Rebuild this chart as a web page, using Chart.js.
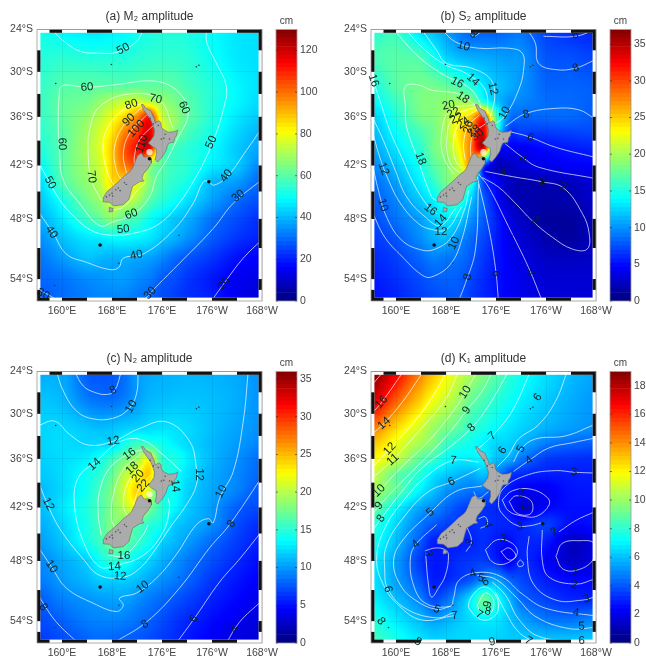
<!DOCTYPE html>
<html>
<head>
<meta charset="utf-8">
<title>Tidal amplitude maps</title>
<script src="https://cdn.jsdelivr.net/npm/chart.js@4"></script>
<style>
  html, body { margin: 0; background: #fff; }
  #page { position: relative; width: 646px; height: 656px; overflow: hidden; }
  canvas { position: absolute; filter: blur(0.5px); }
</style>
</head>
<body>
<div id="page"></div>
<script>
// axis ticks
const lonTicks = [160, 168, 176, 184, 192];
const lonTickLabels = ["160°E", "168°E", "176°E", "176°W", "168°W"];
const latTicks = [24, 30, 36, 42, 48, 54];
const latTickLabels = ["24°S", "30°S", "36°S", "42°S", "48°S", "54°S"];

// grid the amplitudes were read on (lat is degrees south)
const fieldLon = [156, 160, 164, 166, 168, 170, 172, 174, 176, 178, 180, 184, 188, 192];
const fieldLat = [24, 28, 32, 34, 36, 38, 40, 42, 44, 46, 48, 50, 52, 54, 56];

// M2 amplitude, cm
const m2Values = [
  [52,48,46,46,47,48,50,52,53,53,52,49,46,45],
  [53,54,53,53,53,53,54,55,55,55,54,50,46,45],
  [55,59,60,60,60,60,61,61,61,60,57,53,48,45],
  [55,61,63,67,71,74,76,72,68,64,60,53,48,44],
  [55,61,67,72,79,86,96,110,75,68,61,53,46,42],
  [54,60,69,76,84,97,106,118,80,66,58,51,44,39],
  [52,60,70,77,88,103,112,115,65,57,54,49,42,37],
  [48,60,69,75,87,98,100,70,60,56,54,47,42,33],
  [43,58,67,72,85,85,80,66,58,54,51,40,36,29],
  [41,51,63,68,75,75,70,60,54,50,45,37,30,26],
  [38,46,56,61,66,60,57,50,46,42,39,31,26,22],
  [34,41,46,47,49,49,48,46,42,39,35,28,23,20],
  [31,36,41,40,39,39,38,37,34,30,27,23,18,16],
  [29,31,34,35,36,36,34,32,28,26,23,19,15,13],
  [27,30,32,33,33,33,31,29,26,24,22,20,14,11]
];
const m2Ticks = [0, 20, 40, 60, 80, 100, 120];
const m2Lines = [
  [158.3,24, 160.7,26, 163.1,27.2, 166,27.4, 168.7,27.3, 171.9,25.8, 173,24],
  [183.1,24, 183.2,26, 184.7,28.8, 186.3,32, 185.8,35.1, 184.2,39, 182,42.6, 178.3,46.7, 175.1,48.7, 171.4,49.5, 168.2,49.7, 165,49.3, 162,47.8, 159.6,45.9, 157.5,43.3, 156,41.3],
  [159.6,32.3, 160.4,31.8, 163.9,32.1, 168.2,31.8, 175.1,31.3, 178.8,32.9, 180.2,35.6, 178.3,39, 176.7,41.4, 175.1,43.3, 174,45.6, 171.4,47.5, 168.2,48.3, 166,48.7, 162.8,46.3, 160.2,43.7, 159.6,40.2, 159.4,36, 159.6,32.3],
  [177.8,37.5, 175.6,33.8, 170.8,33, 166,34.7, 164.4,37.7, 164.2,40.6, 164.7,43.7, 166.3,46],
  [167.4,47.1, 169.8,46.7, 171.9,45, 173.5,43.9],
  [172.7,34.3, 169.8,35.1, 167.1,37.7, 166.6,40.6, 167.6,43.4, 168.4,44.4],
  [172.9,34.7, 170,36.9, 168.4,39.8, 168.7,42.6, 169.5,43.7],
  [173.5,35.8, 170.8,38.1, 169.8,40.6, 170.3,42.9],
  [174.6,37.1, 172.4,38.9, 171.6,40.8, 171.6,42.1],
  [156,47, 158.6,49.5, 160.7,51.6, 163.9,52.4, 167.6,53.1, 169.1,52.9, 169.8,52, 173,51.6, 177.8,49.2, 181,46.3, 182.6,43.9, 183.6,43.9, 184.2,44.3, 186.3,43.4, 189.5,40.2, 191.9,37.5],
  [173,56, 175.1,54.7, 178.8,52.5, 184.2,49, 187.4,46.3, 191.9,43.7],
  [183.9,56, 186.3,54.1, 189,52, 191.9,50.2],
  [156,54.9, 158,55.5, 159.4,56]
];
const m2Labels = [
  ["50",169.8,26.8],["50",158.1,44],["50",183.9,39.2],["50",169.8,49.1],
  ["60",164,32.1],["60",160,39.4],["60",179.5,34.8],["60",171.1,47.5],
  ["70",175,33.7],["70",164.7,43.3],["80",171.1,34.4],["90",170.7,36.4],["100",171.9,37.5],["110",172.8,39.4],
  ["40",158.3,49.4],["40",171.9,51.7],["40",186.3,43.2],
  ["30",188.2,45.5],["30",174.1,55.3],["30",157,55.4],["20",185.9,54.4]
];

// S2 amplitude, cm
const s2Values = [
  [15,16,12.5,11.5,10.5,9,8,8,8,8.5,8.8,7,6.2,5.8],
  [16.5,17,16.5,14.5,12.5,11.5,11,10.8,10.5,10.2,10,7.8,7.5,7],
  [14.5,17,18,18,17.5,16.5,15,13,11.8,11,10,8.3,8.2,8],
  [13.5,16,18.3,18.6,19,19.5,19,15,12,10,9.5,8.6,8.4,8],
  [12,15,18,18.5,20,23,25,30,17,9.5,8.3,8.4,8.4,7.8],
  [11.3,14,16.5,18,20,24,27,33,16,7,6.8,6.7,7,7.2],
  [10.5,13,15.5,18,19.5,23,28,33,8,4.5,4.2,5,5.5,5.8],
  [9.5,11.8,14.5,17,18.5,21,25,8,2.5,2.5,3.2,4,4.4,4.6],
  [8.5,10.5,13.5,15.5,18,19,16,7,4.5,2.5,1.8,2,2.3,3.3],
  [7.8,9.5,12,13.5,15.5,16,12,8.2,5,2.6,1.9,1.5,1.8,2.8],
  [7.3,8.8,10.5,12,13.2,12.5,10,7.9,5.8,3.8,2.5,1.3,1.2,2.3],
  [6.6,7.8,9.8,11,11.5,10,8.5,7.2,5.6,4,3,1.8,1.2,2.4],
  [6,6.9,8.4,9.3,9,8.8,7.8,6.6,5.4,4.3,3.5,2.6,2.4,2.6],
  [5.5,6.3,7.4,8,8.2,8,7.1,6.1,5.2,4.4,3.8,3.1,3,3],
  [5.2,5.8,6.8,7.2,7.5,7.8,6.7,5.9,5.2,4.4,3.8,3.4,3.2,3.2]
];
const s2Ticks = [0, 5, 10, 15, 20, 25, 30, 35];
const s2Lines = [
  [167.3,24, 169.5,25.8, 173.2,26.7, 178,26.7, 180.2,27.4, 180.4,29.8, 179.6,32.5, 177.5,35.8, 175.5,37.1],
  [181,24, 182.3,26, 182.8,28.8, 185.5,29.7, 188.7,29.5, 191.7,28.4],
  [183.6,25, 188.7,25, 191.7,24.1],
  [171.6,24.2, 172.4,25, 173.4,24.5],
  [164.1,24, 166.5,27, 168,28.8, 172.1,29.5, 175.1,31, 175.8,33.3, 175.1,36],
  [161.5,24, 164.7,27, 167.8,29, 171.6,30.4, 174.3,32.5, 174.7,35.6],
  [159.6,24, 163.6,27.9, 167.6,30.4, 171.6,32.1, 173.2,33.8, 173.6,35.1],
  [172.7,34.5, 170,33, 165.7,32.5, 163.6,31.8, 161.5,32, 161.5,34.7, 161.7,37.3, 163.6,41.5, 165.7,45.6, 166.5,46],
  [156.1,30.5, 157.4,33.8, 159,37.7, 160.9,41, 162.8,44.1, 165.2,46.7, 166.5,47.4],
  [156.1,35.8, 158,39, 159.9,42.6, 161.7,45.6, 164.7,47.8, 167.1,48.7, 169.5,46.9],
  [156.1,37.5, 157.4,41, 158.8,43.7, 160.7,46.3, 163.6,48.5, 165.7,49.1, 168.1,49.1, 170.5,46.7],
  [156.1,41.4, 157.2,44.9, 158.5,47.8, 160.9,50.2, 164.1,51.2, 166.3,51.1, 168.9,49.9, 171.1,46.7, 171.6,44.9],
  [156.1,47.1, 158.2,49.9, 160.9,51.8, 164.1,53.6, 165.7,53.8, 168.7,52.6, 170.5,50.2, 172.1,45.6],
  [170,56, 171.1,54.4, 172.7,51.2, 173.2,44.1],
  [176.4,56, 175.9,52.9, 174.8,48.8, 173,43.3],
  [183.4,56, 181.2,52.9, 178,48.8, 174.8,44.5, 173.2,43],
  [174.3,42.7, 178.6,43.3, 183.4,43.9, 186.8,44.6, 189.8,47.4, 190.9,49.5, 190.6,51.1, 188.2,51.1, 185,49.9, 181.8,48.2, 179.1,46.3, 176.4,44.5, 173.8,43.4],
  [177.5,37.2, 180.7,35.6, 185.5,34.9, 189.3,35.1, 191.7,36.2],
  [178.3,37.9, 181.2,38.5, 185.5,39.8, 191.7,41],
  [177.5,39.4, 180.2,41, 182.8,42.2, 191.7,43.5],
  [172.7,34.4, 168.7,35.1, 167.3,38.1, 167.6,41, 169.2,43],
  [172.8,34.7, 169.2,36, 168.1,39, 168.7,41.8, 170.1,42.8],
  [173,35.1, 170.3,36.6, 169.2,39, 169.5,41.4, 170.5,42.3],
  [173.3,35.8, 171.6,37.1, 170.8,39.4, 171.1,41.4],
  [174.3,36.9, 172.4,38.1, 171.9,40.2, 172.1,41.2]
];
const s2Labels = [
  ["10",170.8,26.4],["10",177.4,35.5],["10",169.3,50.5],["10",157.9,46.5],
  ["8",172.4,24.7],["8",188.8,29.5],["8",180.8,35.7],["8",171.5,53.8],
  ["6",188.7,24.8],["6",181.5,38.6],["6",175.9,53.5],
  ["4",180.3,41.2],["4",177.2,42.7],["4",181.5,53.4],
  ["2",186.7,44.5],["2",182.3,48.2],["2",183.3,43.9],
  ["16",169.8,31.5],["16",156.4,31.2],["16",165.5,47],
  ["14",172.3,31.1],["14",167.2,48.2],["12",175.5,32.3],["12",158,42.4],["12",167.2,49.3],
  ["18",170.7,33.5],["18",163.9,41.2],["20",168.4,34.5],["22",169.2,35.5],["22",169.7,36.2],
  ["24",170.8,36.8],["26",171.6,37.3],["28",172.5,37.8],["30",173.1,38.3]
];

// N2 amplitude, cm
const n2Values = [
  [10.5,10.5,7.8,7.5,7.6,8.4,10,10.5,10.7,10.8,11,10.8,10.4,9.6],
  [11.5,11,9,8.5,8.4,9,10.1,11,11.2,11.4,11.4,11.2,10.6,9.6],
  [12,12.1,11.5,11.2,11.4,11.8,12,12.3,12.5,12.5,12.2,11.2,10.3,9.6],
  [12,12.3,12,12.2,12.1,14,15.5,15,14,13,12.2,11,10,9.2],
  [11.8,12.3,13,14,15.5,17.5,19,22,15,14.5,13,11,9.6,8.3],
  [11.5,12.3,13.9,15,17,20,22,24,16,14,12.5,10.6,9.3,8],
  [11,12.2,14,15.9,18,21,24,21,14.5,13.8,12,10.4,9.1,7.4],
  [11,12.6,14.6,16,18,20,22,18,15,13.5,11.7,10,7.9,7],
  [10.5,12,14.3,16,18,18,16.5,15,14,11.8,11,9.6,7.2,6],
  [10,11.5,14,15.5,17.5,17,15.5,14,12,11,10,8.2,6.6,5.4],
  [9.2,10.5,11.9,13.8,15,14.5,13,12,10.8,9.8,8.8,7.3,5.9,4.8],
  [8.7,10,11,11.8,11.9,11.9,11.3,10.4,9.6,8.9,8,6.4,5.2,4.3],
  [7.6,9,9.7,10,10.2,10.2,9.5,8.8,8.2,7.5,6.8,5.6,4.6,3.7],
  [7,7.9,8.9,9.1,9.2,9,8.5,7.9,7.2,6.4,5.8,4.8,3.9,3.3],
  [6.4,7.1,7.8,8.2,8,7.7,7.5,7,6.5,6,5.2,4.2,3.5,3]
];
const n2Ticks = [0, 5, 10, 15, 20, 25, 30, 35];
const n2Lines = [
  [162,24, 163.4,26.1, 165.2,27, 167.1,27.3, 168.4,26.8, 169.5,24],
  [159.1,24, 160.2,26.8, 162.3,29.6, 165,30.7, 168.2,30.6, 170.6,29.4, 171.9,27.3, 172.2,24],
  [156,31.7, 158.8,31, 161.2,32.8, 164.2,34.2, 168.2,33.7, 172.4,32, 176.7,31.1, 180.4,33.7, 181.5,37.2, 181.5,39.3, 179.9,41.7, 177.2,44.4, 175.1,46.6, 172.4,48.8, 169.8,49.7, 166,49.5, 163.4,47.8, 159.6,44.4, 157.5,41.3, 156,38.4],
  [179.1,37.6, 176.2,35.5, 172.7,33.5, 169.2,33.8, 165.5,36.3, 162.6,38.4, 162,41.7, 163.4,45.9, 166,48.6, 168.4,48.5, 173,47.4, 176.2,44.8, 177.2,42.1, 177,40.9],
  [173,34.8, 170.8,35.3, 167.6,37.2, 166,40.1, 165.8,42.9, 166.3,45.2],
  [167.4,47.4, 170,47.4, 173,45.1, 173.8,44],
  [172.7,35.3, 169.8,37.4, 168.2,40.5, 167.9,43.2, 168.4,44.4],
  [173,36.8, 170.6,38.9, 169.8,41.7, 170.6,43.2],
  [174.3,38, 172.4,39.7, 171.4,41.7],
  [156,46.3, 158.3,48.6, 160.7,50.8, 165,52.3, 168.7,53.1, 169.8,52.5, 169.2,51.8, 171.9,51.3, 175.1,49.8, 178.3,47.3, 181.5,44, 183.4,43.3, 184.2,43.8, 185.2,40.9, 187.4,37.6, 189,31, 189.8,24],
  [156,51.2, 157.2,52.5, 159.1,54.1, 161.8,55.6, 162.8,56],
  [168.2,56, 173.5,54.1, 178.8,50.8, 183.6,46.6, 186.8,44, 191.9,38.4],
  [178.3,56, 181,53.9, 185.2,50.2, 188.4,47.8, 191.9,44.8],
  [186.3,56, 188.4,54.1, 191.9,52.1]
];
const n2Labels = [
  ["8",168.2,26.7],["8",157,52.7],["8",173.3,54.3],["8",187.1,43.9],
  ["10",171.1,29],["10",158.3,48.6],["10",172.9,50.7],["10",185.5,40.1],
  ["12",168.2,33.7],["12",181.9,38],["12",157.8,41.6],["12",169.3,49.6],
  ["14",165.2,36.7],["14",168.4,48.6],["14",178.1,39.4],
  ["16",170.8,35.4],["16",169.9,47.4],["18",171.2,37.2],["20",172.2,38.2],["22",173,39.4],
  ["6",181.1,53.8],["4",187.6,54.8]
];

// K1 amplitude, cm
const k1Values = [
  [19,16.8,14.2,13,12,11,10.3,9.5,8.8,8,7.4,6.6,5.9,5.5],
  [17.5,15,12.8,11.7,10.9,10.1,9.1,8.5,7.9,7.4,6.9,6.2,5.6,5.2],
  [14.5,12.6,11,10,9.4,8.8,8,7.6,7.1,6.7,6.3,5.7,5.3,5],
  [13,11.6,10.2,9.5,8.3,7.8,7.4,6.9,6.4,6.3,5.7,4.7,4.3,4.1],
  [12,10.9,8.8,8.2,7.3,6.9,6.9,7,6,5.7,4.6,3.5,3.3,3.2],
  [11,9,7.8,6.7,6.2,5.8,5.6,6,5,3.5,3.1,2.9,2.9,2.9],
  [10.2,8.9,6.9,6,5.2,4.8,4.5,4.5,3.5,2.8,2.2,2.2,2.7,2.8],
  [9.3,7.2,5.5,5,4.4,3.8,3.5,3.3,3.1,2.7,1.6,2.4,2.6,2.6],
  [8,6.4,4.6,4,3.6,3.3,3.2,3.3,3.1,3,2.9,3.5,2.5,2.6],
  [7.5,5.9,4,2.9,3,2.9,3,3.2,2.8,2.5,3,2.8,1.3,1.8],
  [6.9,5.4,3.4,2.8,2.9,3.2,3.4,3.5,3,2.2,3.1,2.4,1.4,1.9],
  [6.7,5.4,3.9,2.9,3.1,3.5,4,5,5.5,4.3,3.7,2.9,2.5,2.5],
  [7,6,4.8,3.8,4.4,5.4,6.8,9,7.5,6,4.4,3.6,3.1,3.1],
  [7.8,6.8,5.9,5.4,5.7,6.1,6.5,6.8,6.7,6.1,5.5,4.7,4.6,5],
  [8.5,7.6,6.7,6.4,6.4,6.5,6.4,6.4,6.3,6.2,6.2,6.2,6.2,6.2]
];
const k1Ticks = [0, 2, 4, 6, 8, 10, 12, 14, 16, 18];
const k1Lines = [
  [156.4,25.7, 158,24],
  [156.1,30, 157.7,28.4, 161.2,24],
  [156.1,32.8, 158.1,31.3, 160.9,28.5, 164.4,24],
  [156.1,37.2, 159,34.7, 162.5,31.5, 165.7,27.8, 168.1,24],
  [156.1,38.5, 159.5,36.1, 163.6,32.4, 167.9,28, 170,24],
  [156.1,40.9, 157.3,40, 160.7,37.2, 165.2,33.7, 169.5,29.2, 171.1,27, 173,24],
  [156.1,42.9, 157.3,41.8, 160.4,39.3, 165.2,35.5, 168.7,32.4, 171.3,29.5, 173.8,26.8, 175.4,24],
  [156.1,44.8, 157.6,43.3, 160.9,40.1, 164.1,37.2, 168.7,34.4, 172.1,31.9, 174.8,28.9, 178,24],
  [173.2,36.4, 169.2,36.2, 165.2,38, 161.5,40.9, 158.2,44.4, 156.9,47.8, 158,50.5, 160.4,52.5, 164.1,53.9, 169.2,53.5],
  [172.7,35, 175.4,33, 178.6,29.6, 181.5,24],
  [173.5,37.2, 168.9,38.9, 165.2,40.1, 161.5,42.9, 158.5,46.3, 158.2,49.1, 158.7,50.9, 161.5,52.8, 166.5,53.7, 169.2,53.2],
  [173.8,39.4, 169.5,40.1, 165.5,42.6, 160.9,45.9, 159.6,48.1, 160.7,50.5, 163.1,52, 166.5,52.9, 168.7,52.6],
  [166.5,44, 163.2,46.2, 162.3,47.7, 162.8,50.5, 164.7,52.3, 168.7,52.6, 169.2,51.8, 170.1,50, 173.3,49.2, 177,49.7, 180.2,51.4, 184,52.8, 191.7,53.5],
  [164.7,46.9, 165.2,50.5, 165.7,51.7, 166.8,50.8, 167.9,49.5, 168.4,47.4, 167.9,46.8, 166.3,46.6, 164.7,46.9],
  [173,49.5, 175.9,49.9, 179.2,51.7, 182.4,53.6, 187.7,54.7, 191.7,54.6],
  [175.4,50.2, 177.5,51.5, 179.6,53.8, 182.8,55.4, 189.3,55.8, 191.7,55.8],
  [175.9,51.2, 177.5,53.1, 179.6,55, 182.3,56],
  [172.4,53.4, 171.6,52.5, 172.7,51.2, 174.3,50.7, 175.9,51.5, 176.4,52.8, 175.4,53.7, 173.8,53.9, 172.4,53.4],
  [173,52.5, 174.3,51.3, 175.6,52, 175.1,53.3, 173.5,53.1, 173,52.5],
  [187.4,24, 185.5,28.3, 182.8,31.5, 179.6,33.4, 178,35.5, 176.2,37],
  [178.8,36.4, 180,34.7, 182.3,33.4, 187.1,33, 191.7,31.5],
  [178.8,37.6, 181.3,36.2, 184.4,34.6, 188.2,33.9, 191.7,33.3],
  [191.7,37.8, 188.5,37.7, 185.5,37.5, 181.2,38, 177.2,39.7, 176.4,41.7, 177.2,42.9, 179.4,44.1, 181.6,44.1, 183.2,43.8],
  [177,41.1, 178.6,40, 181.6,39.8, 184.2,40.8, 184.5,41.7, 182.6,43, 180.2,43, 178,42.4, 177,41.1],
  [178.1,41.3, 179.2,40.6, 181.6,41.2, 181.6,42.7, 179.4,42.7, 178.1,41.3],
  [186.1,44.8, 188.8,43.5, 191.5,42.6],
  [183.4,44.6, 183.4,47.9, 184.5,49.7, 188.8,50.4, 191.7,49.9],
  [181.3,45.3, 181,47.5, 182,50.4, 185.6,52, 189.8,52, 191.7,51.7],
  [185.6,47.5, 186.6,46.1, 189.3,45.8, 191.7,46.1, 191.5,47.9, 188.8,49, 186.6,48.8, 185.6,47.5],
  [174.3,46.8, 176.2,45.7, 178.6,46.1, 179.4,47.2, 177.5,48.3, 175.4,48.1, 174.3,46.8],
  [176.8,47, 178.1,46.6, 179.2,47.5, 178.1,47.9, 176.8,47],
  [179.4,48.3, 179.9,47.9, 180.4,48.4, 179.7,48.6, 179.4,48.3],
  [173.2,43.3, 174.3,43.1, 174.6,44, 173.5,44.4],
  [171.2,44, 172.1,45.9, 171.2,47],
  [172.4,40.1, 173.2,40.9, 174.8,40.1]
];
const k1Labels = [
  ["16",157.7,28.4],["14",158.1,31.3],["12",159,34.7],["11",159.5,36.1],["10",157.3,40],["9",157.3,41.8],["8",157.6,43.3],
  ["10",171.1,27],["9",171.3,29.5],["8",172.1,31.9],["7",175.4,33],["6",177.1,34.9],["5",180,34.7],["4",181.3,36.2],["3",188.5,37.7],["6",182.7,27.7],
  ["7",169.2,36.2],["6",168.9,38.9],["5",165.5,42.6],["4",163.2,46.2],["3",165.1,47.2],["6",158.7,50.9],["8",157.6,54],["5",166.5,52.9],["7",169.4,53.5],["8",163.5,55.9],
  ["4",172.3,49.3],["5",173.6,49.8],["6",174.3,50.2],["9",174.7,52.4],["8",174.7,53.1],["7",173.3,53.4],
  ["3",171.8,46],["3",177.1,45.6],["3",179.8,44.2],["4",174.7,44],["2",180,40.3],["1",180.7,42],["2",185.3,44.8],
  ["3",190.5,51.9],["4",188.8,53.2],["5",189.7,54.5],["6",189.7,55.8],["7",181.2,55.8],["9",175.4,55.9],["1",188.7,49.2],["2",188.5,50.5]
];

// coastline, lon/lat pairs
const northIsland = [172.7,34.4, 173,34.4, 173.4,34.9, 174.2,35.2, 174.5,35.8, 174.8,36.3, 174.9,36.8, 175.5,36.5, 175.8,36.7, 175.9,37.3, 176.2,37.6, 177,37.95, 177.9,37.9, 178.5,37.7, 178.3,38.4, 178,38.7, 177.9,39.2, 177.1,39.3, 176.9,39.6, 176.6,40.3, 176,41, 175.3,41.6, 174.9,41.3, 175.1,40.7, 175.1,40, 174.4,39.7, 173.8,39.3, 174.2,38.95, 174.7,38.4, 174.8,37.7, 174.6,37.2, 174.2,36.4, 173.4,35.5, 173,35, 172.7,34.4];
const southIsland = [172.7,40.5, 173.1,41, 173.8,40.95, 174.3,41.2, 174.3,41.7, 173.7,42.4, 173,43, 172.8,43.5, 173.1,43.8, 172.4,43.9, 171.3,44.4, 171,45.1, 170.7,45.9, 169.8,46.45, 168.3,46.6, 167.6,46.2, 166.6,46.15, 166.6,45.7, 167.2,45, 167.9,44.6, 169,43.9, 170,43.2, 170.9,42.7, 171.2,42.4, 171.6,41.75, 172.1,40.8, 172.7,40.5];
const stewartIsland = [167.6,46.75, 168.2,46.9, 168.1,47.2, 167.5,47.25, 167.6,46.75];
const smallIslands = [167.9,29, 181.5,29.3, 181.9,29.1, 159,31.6, 178.7,49.7, 158.8,54.6, 169.1,52.5];
const bigIslands = [166.1,50.7, 183.5,43.9, 174,41.2];
const landMarks = [168,45.2, 168.6,44.8, 169,44.6, 169.3,44.9, 170,44, 170.3,44.2, 168.1,45.5, 167.6,45.4, 167.1,45.6, 175.9,38.8, 176.5,38.2, 177.2,38.8, 174.1,36.2, 174.6,36.9, 175.4,37.1, 176.3,38.7];
const strait = [174,40.4];

// colours of the matlab jet map
function jet(t) {
  const c = v => Math.round(255 * Math.min(1, Math.max(0, v)));
  return [c(1.5 - Math.abs(4 * t - 3)), c(1.5 - Math.abs(4 * t - 2)), c(1.5 - Math.abs(4 * t - 1))];
}

// mercator, negative so that south is down
function merc(lat) {
  return -Math.log(Math.tan(Math.PI / 4 + lat * Math.PI / 360));
}
function unmerc(y) {
  return (Math.atan(Math.exp(-y)) - Math.PI / 4) * 360 / Math.PI;
}
function toPoints(flat) {
  const pts = [];
  for (let i = 0; i < flat.length; i += 2) pts.push({ x: flat[i], y: merc(flat[i + 1]) });
  return pts;
}

function gridIndex(list, v) {
  let i = 0;
  while (i < list.length - 2 && v > list[i + 1]) i++;
  return i + (v - list[i]) / (list[i + 1] - list[i]);
}
function spline(a, b, c, d, t) {
  return 0.5 * (2 * b + (c - a) * t + (2 * a - 5 * b + 4 * c - d) * t * t + (3 * b - a - 3 * c + d) * t * t * t);
}
function sampleRow(row, ci) {
  const i = Math.floor(ci), t = ci - i, n = row.length - 1;
  const at = k => row[Math.max(0, Math.min(n, k))];
  return spline(at(i - 1), at(i), at(i + 1), at(i + 2), t);
}

// paints the amplitude field under the datasets, using the chart's own scales
const fieldPlugin = {
  id: "field",
  beforeDatasetsDraw(chart, args, opts) {
    const area = chart.chartArea, xs = chart.scales.x, ys = chart.scales.y;
    const w = Math.ceil(area.width), h = Math.ceil(area.height);
    const off = document.createElement("canvas");
    off.width = w; off.height = h;
    const offCtx = off.getContext("2d");
    const img = offCtx.createImageData(w, h);
    const cols = [];
    for (let px = 0; px < w; px++) cols.push(gridIndex(fieldLon, xs.getValueForPixel(area.left + px + 0.5)));
    let o = 0;
    for (let py = 0; py < h; py++) {
      const ri = gridIndex(fieldLat, unmerc(ys.getValueForPixel(area.top + py + 0.5)));
      const i = Math.floor(ri), t = ri - i, n = opts.values.length - 1;
      const rows = [i - 1, i, i + 1, i + 2].map(k => opts.values[Math.max(0, Math.min(n, k))]);
      for (let px = 0; px < w; px++) {
        const ci = cols[px];
        const v = spline(sampleRow(rows[0], ci), sampleRow(rows[1], ci), sampleRow(rows[2], ci), sampleRow(rows[3], ci), t);
        const rgb = jet(Math.max(0, Math.min(1, v / opts.max)));
        img.data[o++] = rgb[0]; img.data[o++] = rgb[1]; img.data[o++] = rgb[2]; img.data[o++] = 255;
      }
    }
    offCtx.putImageData(img, 0, 0);
    chart.ctx.drawImage(off, area.left, area.top, area.width, area.height);
  }
};

// black and white map border, then the contour labels
const borderPlugin = {
  id: "mapBorder",
  afterDatasetsDraw(chart, args, opts) {
    const c = chart.ctx, a = chart.chartArea, xs = chart.scales.x, ys = chart.scales.y;
    const t = 3.4;
    c.save();
    c.fillStyle = "#fff";
    c.fillRect(a.left, a.top, a.width, t);
    c.fillRect(a.left, a.bottom - t, a.width, t);
    c.fillRect(a.left, a.top, t, a.height);
    c.fillRect(a.right - t, a.top, t, a.height);
    c.fillStyle = "#111";
    [[158,160],[164,168],[172,176],[180,184],[188,192]].forEach(s => {
      const x0 = xs.getPixelForValue(s[0]), x1 = xs.getPixelForValue(s[1]);
      c.fillRect(x0, a.top, x1 - x0, t);
    });
    [[156,158],[160,164],[168,172],[176,180],[184,188]].forEach(s => {
      const x0 = xs.getPixelForValue(s[0]), x1 = xs.getPixelForValue(s[1]);
      c.fillRect(x0, a.bottom - t, x1 - x0, t);
    });
    [[27,30],[33,36],[39,42],[45,48],[51,54],[55,56]].forEach(s => {
      const y0 = ys.getPixelForValue(merc(s[0])), y1 = ys.getPixelForValue(merc(s[1]));
      c.fillRect(a.left, y0, t, y1 - y0);
    });
    [[24,27],[30,33],[36,39],[42,45],[48,51],[54,55]].forEach(s => {
      const y0 = ys.getPixelForValue(merc(s[0])), y1 = ys.getPixelForValue(merc(s[1]));
      c.fillRect(a.right - t, y0, t, y1 - y0);
    });
    c.strokeStyle = "#999";
    c.lineWidth = 0.8;
    c.strokeRect(a.left, a.top, a.width, a.height);

    // labels turn with the nearest contour
    c.font = "11.5px 'Liberation Sans'";
    c.fillStyle = "#0c2420";
    c.textAlign = "center";
    c.textBaseline = "middle";
    opts.labels.forEach(l => {
      const px = xs.getPixelForValue(l[1]), py = ys.getPixelForValue(merc(l[2]));
      let best = Infinity, angle = 0;
      opts.lines.forEach(line => {
        for (let i = 0; i + 3 < line.length; i += 2) {
          const x0 = xs.getPixelForValue(line[i]), y0 = ys.getPixelForValue(merc(line[i + 1]));
          const x1 = xs.getPixelForValue(line[i + 2]), y1 = ys.getPixelForValue(merc(line[i + 3]));
          const dx = x1 - x0, dy = y1 - y0, len = dx * dx + dy * dy || 1;
          const u = Math.max(0, Math.min(1, ((px - x0) * dx + (py - y0) * dy) / len));
          const d = Math.hypot(px - x0 - u * dx, py - y0 - u * dy);
          if (d < best) { best = d; angle = Math.atan2(dy, dx); }
        }
      });
      if (angle > Math.PI / 2) angle -= Math.PI;
      if (angle < -Math.PI / 2) angle += Math.PI;
      c.save();
      c.translate(px, py);
      c.rotate(angle);
      c.fillText(l[0], 0, 0);
      c.restore();
    });
    c.restore();
  }
};

// frame of the colour bar, with short ticks pointing inwards
const boxPlugin = {
  id: "barBox",
  afterDatasetsDraw(chart) {
    const a = chart.chartArea, c = chart.ctx, ys = chart.scales.y;
    c.save();
    c.strokeStyle = "#999";
    c.lineWidth = 0.8;
    c.strokeRect(a.left, a.top, a.width, a.height);
    c.strokeStyle = "rgba(40,40,40,0.7)";
    c.beginPath();
    ys.ticks.forEach(tick => {
      const y = ys.getPixelForValue(tick.value);
      c.moveTo(a.left, y); c.lineTo(a.left + 2, y);
      c.moveTo(a.right, y); c.lineTo(a.right - 2, y);
    });
    c.stroke();
    c.restore();
  }
};

function addCanvas(left, top, width, height) {
  const cv = document.createElement("canvas");
  cv.width = width; cv.height = height;
  cv.style.left = left + "px";
  cv.style.top = top + "px";
  cv.style.width = width + "px";
  cv.style.height = height + "px";
  document.getElementById("page").appendChild(cv);
  return cv;
}

function drawMap(left, top, title, values, max, lines, labels, showStrait) {
  const datasets = [
    { data: toPoints(bigIslands), pointRadius: 1.8, pointBackgroundColor: "#111", pointBorderWidth: 0, order: 0 },
    { data: toPoints(smallIslands), pointRadius: 0.8, pointBackgroundColor: "#333", pointBorderWidth: 0, order: 0 },
    { data: toPoints(landMarks), pointRadius: 0.8, pointBackgroundColor: "#555", pointBorderWidth: 0, order: 0 }
  ];
  if (showStrait) {
    datasets.push({ data: toPoints(strait), pointRadius: 3.2, pointBackgroundColor: "rgba(255,250,215,0.8)", pointBorderWidth: 0, order: 3 });
  }
  [northIsland, southIsland, stewartIsland].forEach(coast => {
    datasets.push({ data: toPoints(coast), showLine: true, fill: "shape", backgroundColor: "#ababab",
      borderColor: "#666", borderWidth: 0.6, pointRadius: 0, order: 1 });
  });
  lines.forEach(line => {
    datasets.push({ data: toPoints(line), showLine: true, tension: 0.4, borderColor: "rgba(255,255,255,0.68)",
      borderWidth: 1, pointRadius: 0, order: 2 });
  });
  new Chart(addCanvas(left, top, 283, 327), {
    type: "scatter",
    data: { datasets: datasets },
    plugins: [fieldPlugin, borderPlugin],
    options: {
      responsive: false,
      animation: false,
      events: [],
      layout: { padding: { right: 21 } },
      plugins: {
        legend: { display: false },
        tooltip: { enabled: false },
        field: { values: values, max: max },
        mapBorder: { lines: lines, labels: labels },
        title: { display: true, text: title, fullSize: false, color: "#333", padding: { top: 9, bottom: 6 },
          font: { family: "'Liberation Sans', 'DejaVu Sans'", size: 12, weight: "normal" } }
      },
      scales: {
        x: {
          type: "linear", min: 156, max: 192,
          afterBuildTicks: s => { s.ticks = lonTicks.map(v => ({ value: v })); },
          afterFit: s => { s.height = 26; },
          grid: { color: "rgba(0,0,0,0.06)", drawTicks: false, z: 1 },
          border: { display: false },
          ticks: { callback: (v, i) => lonTickLabels[i], color: "#444", padding: 4, maxRotation: 0, autoSkip: false,
            font: { family: "'Liberation Sans'", size: 10.5 } }
        },
        y: {
          type: "linear", min: merc(56), max: merc(24),
          afterBuildTicks: s => { s.ticks = latTicks.map(v => ({ value: merc(v) })); },
          afterFit: s => { s.width = 37; },
          grid: { color: "rgba(0,0,0,0.06)", drawTicks: false, z: 1 },
          border: { display: false },
          ticks: { callback: (v, i) => latTickLabels[i], color: "#444", padding: 4, autoSkip: false,
            font: { family: "'Liberation Sans'", size: 10.5 } }
        }
      }
    }
  });
}

function drawColorbar(left, top, max, ticks) {
  const steps = 64, datasets = [];
  for (let i = 0; i < steps; i++) {
    const rgb = jet((i + 0.5) / steps);
    datasets.push({ data: [max / steps], backgroundColor: "rgb(" + rgb.join(",") + ")", borderWidth: 0, barPercentage: 1, categoryPercentage: 1 });
  }
  new Chart(addCanvas(left, top, 53, 327), {
    type: "bar",
    data: { labels: ["cm"], datasets: datasets },
    plugins: [boxPlugin],
    options: {
      responsive: false,
      animation: false,
      events: [],
      layout: { padding: { left: 6, bottom: 26 } },
      plugins: {
        legend: { display: false },
        tooltip: { enabled: false },
        title: { display: true, text: "cm", fullSize: false, color: "#444", padding: { top: 15, bottom: 2.5 },
          font: { family: "'Liberation Sans'", size: 10, weight: "normal" } }
      },
      scales: {
        x: { stacked: true, display: false },
        y: {
          stacked: true, position: "right", min: 0, max: max,
          afterBuildTicks: s => { s.ticks = ticks.map(v => ({ value: v })); },
          afterFit: s => { s.width = 26; },
          grid: { display: false, drawTicks: false },
          border: { display: false },
          ticks: { color: "#444", padding: 3, autoSkip: false, font: { family: "'Liberation Sans'", size: 10.5 } }
        }
      }
    }
  });
}

const panels = [
  [0, 0, "(a) M₂ amplitude", m2Values, 130, m2Ticks, m2Lines, m2Labels, true],
  [334, 0, "(b) S₂ amplitude", s2Values, 37, s2Ticks, s2Lines, s2Labels, true],
  [0, 342, "(c) N₂ amplitude", n2Values, 36, n2Ticks, n2Lines, n2Labels, true],
  [334, 342, "(d) K₁ amplitude", k1Values, 19, k1Ticks, k1Lines, k1Labels, false]
];
panels.forEach(p => {
  drawMap(p[0], p[1], p[2], p[3], p[4], p[6], p[7], p[8]);
  drawColorbar(p[0] + 270, p[1], p[4], p[5]);
});
</script>
</body>
</html>
